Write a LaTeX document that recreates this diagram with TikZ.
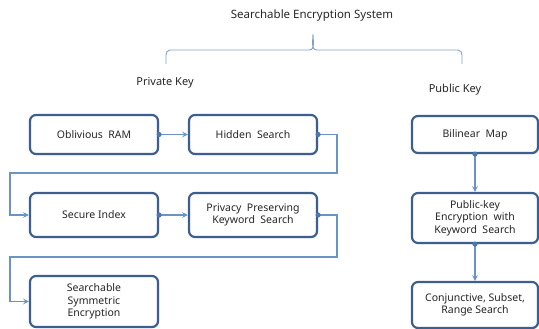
\documentclass[tikz,border=0pt]{standalone}
\usepackage{fontspec}
\setmainfont{Noto Sans}
\usetikzlibrary{arrows.meta,shadows}
\definecolor{boxline}{HTML}{3C5F8F}
\definecolor{conn}{HTML}{6A93C6}
\definecolor{dotc}{HTML}{4A78B4}
\definecolor{brace}{HTML}{7FA0CC}
\begin{document}
\begin{tikzpicture}[x=1pt,y=-1pt,
  box/.style={draw=boxline,line width=2.2pt,rounded corners=6pt,fill=white,
    align=center,font=\fontsize{10.5}{12.5}\selectfont,inner sep=0pt,text=black!85,
    drop shadow={opacity=0.25,shadow xshift=1.2pt,shadow yshift=-1.2pt}},
  link/.style={draw=conn,line width=1.1pt,-{Stealth[length=6pt,width=6pt,inset=2.5pt]}},
  dot/.style={fill=dotc},
  lbl/.style={font=\fontsize{11}{13}\selectfont,text=black!85}]
\useasboundingbox (0,0) rectangle (539,329);
% title and brace
\node[font=\fontsize{11.5}{13}\selectfont,text=black!85] (title) at (312,16) {Searchable Encryption System};
\draw[brace,line width=0.9pt] (166,64) -- (166,55) to[out=90,in=180] (170,50) -- (309,50) to[out=0,in=-90] (313,34) to[out=-90,in=180] (317,50) -- (458,50) to[out=0,in=90] (462,55) -- (462,64);
\node[lbl] (priv) at (165,83) {Private Key};
\node[lbl] (pub) at (455,90) {Public Key};
% boxes
\node[box,minimum width=128pt,minimum height=39pt] (oram) at (94,134.5) {Oblivious\ \ RAM};
\node[box,minimum width=128pt,minimum height=39pt] (hs) at (253,134.5) {Hidden\ \ Search};
\node[box,minimum width=128pt,minimum height=44pt] (si) at (94,215) {Secure Index};
\node[box,minimum width=128pt,minimum height=44pt] (pp) at (253,215) {Privacy\ \ Preserving\\Keyword\ \ Search};
\node[box,minimum width=128pt,minimum height=51pt] (sse) at (94,301.5) {Searchable\\Symmetric\\Encryption};
\node[box,minimum width=126pt,minimum height=37pt] (bm) at (475,134.5) {Bilinear\ \ Map};
\node[box,minimum width=126pt,minimum height=50pt] (pk) at (475,218) {Public-key\\Encryption\ \ with\\Keyword\ \ Search};
\node[box,minimum width=126pt,minimum height=46pt] (crs) at (475,305) {Conjunctive,\ Subset,\\Range Search};
% connectors
\coordinate (c1) at (337,173);
\coordinate (c2) at (10,173);
\coordinate (c3) at (337,257);
\coordinate (c4) at (10,257);
\draw[link] (oram.east) -- (hs.west);
\draw[link] (hs.east) -| (c1) -- (c2) |- (si.west);
\draw[link] (si.east) -- (pp.west);
\draw[link] (pp.east) -| (c3) -- (c4) |- (sse.west);
\draw[link] (bm.south) -- (pk.north);
\draw[link] (pk.south) -- (crs.north);
\foreach \n/\a in {oram/east,hs/east,si/east,pp/east,bm/south,pk/south}
  \fill[dot] (\n.\a) circle (2.6pt);
\end{tikzpicture}
\end{document}
